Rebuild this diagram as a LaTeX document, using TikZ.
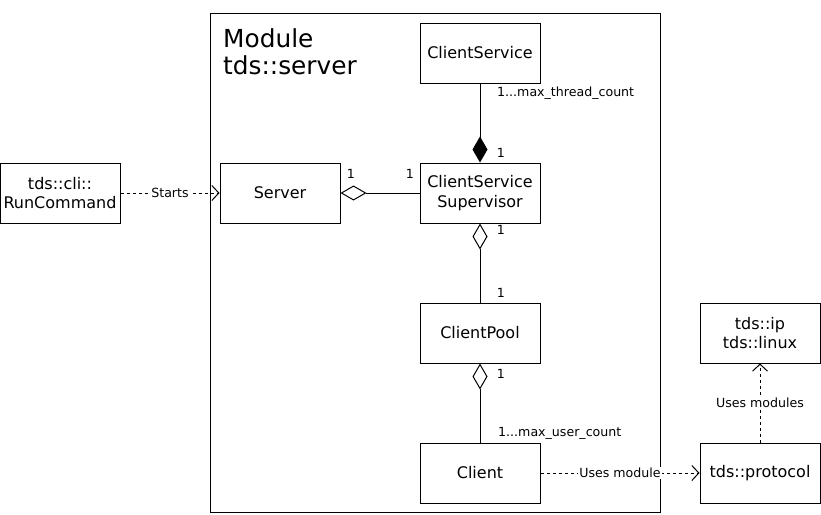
\documentclass[tikz,border=0pt]{standalone}
\usepackage{fontspec}
\setmainfont{DejaVu Sans}
\usetikzlibrary{arrows.meta}
\begin{document}
\begin{tikzpicture}[x=1pt,y=-1pt,
  box/.style={draw,line width=1pt,minimum width=120pt,minimum height=60pt,inner sep=0pt,align=center,font=\fontsize{16}{19.5}\selectfont},
  lbl/.style={font=\fontsize{12.6}{14}\selectfont,inner sep=0pt},
  onlbl/.style={font=\fontsize{12.6}{14}\selectfont,fill=white,inner sep=1pt},
  assoc/.style={line width=1pt},
  dep/.style={line width=1pt,dash pattern=on 3pt off 3pt,-{Straight Barb[length=7pt,width=15pt,line width=1pt]}},
  odia/.style={-{Diamond[open,length=26pt,width=15pt,line width=1pt]}},
  fdia/.style={-{Diamond[length=26pt,width=15pt]}}
]
\useasboundingbox (0,0) rectangle (821,514);
\draw[line width=1pt] (210,13) rectangle (660,512);
\node[anchor=north west,align=left,inner sep=0pt,font=\fontsize{24.8}{27.5}\selectfont] (title) at (223,28) {Module\\tds::server};

\node[box] (cs) at (480,53) {ClientService};
\node[box] (sup) at (480,193) {ClientService\\Supervisor};
\node[box] (server) at (280,193) {Server};
\node[box] (cli) at (60,193) {tds::cli::\\RunCommand};
\node[box] (pool) at (480,333) {ClientPool};
\node[box] (client) at (480,473) {Client};
\node[box] (ip) at (760,333) {tds::ip\\tds::linux};
\node[box] (proto) at (760,473) {tds::protocol};

\draw[assoc,fdia] (cs) -- (sup);
\draw[assoc,odia] (sup) -- (server);
\draw[assoc,odia] (pool) -- (sup);
\draw[assoc,odia] (client) -- (pool);

\draw[dep] (cli) -- node[onlbl] (l1) {Starts} (server);
\draw[dep] (client) -- node[onlbl] (l2) {Uses module} (proto);
\draw[dep] (proto) -- node[onlbl] (l3) {Uses modules} (ip);

\node[lbl,anchor=west] (m1) at (497,93) {1...max\_thread\_count};
\node[lbl] (m2) at (501,153) {1};
\node[lbl] (m3) at (351,174) {1};
\node[lbl] (m4) at (410,174) {1};
\node[lbl] (m5) at (501,230) {1};
\node[lbl] (m6) at (501,293) {1};
\node[lbl] (m7) at (501,374) {1};
\node[lbl,anchor=west] (m8) at (498,433) {1...max\_user\_count};
\end{tikzpicture}
\end{document}
